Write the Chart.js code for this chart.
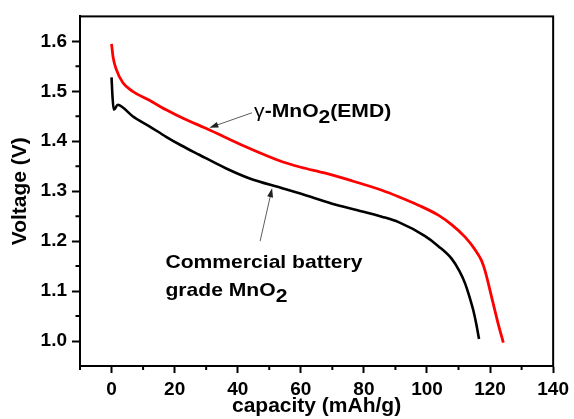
<!DOCTYPE html>
<html>
<head>
<meta charset="utf-8">
<script src="https://cdn.jsdelivr.net/npm/chart.js@4.4.1/dist/chart.umd.min.js"></script>
<style>
  html, body { margin: 0; padding: 0; background: #fff; }
  canvas { display: block; }
</style>
</head>
<body>
<canvas id="chart" width="574" height="419"></canvas>
<script>
// gamma-MnO2 (EMD) discharge curve
const emdCapacity = [0, 0.5, 1.5, 3.6, 6.7, 12, 17.3, 23, 29.9, 36, 43.6, 54.1, 60, 67.8, 75, 85.7, 91, 97.3, 103.6, 108, 112.1, 115, 117.3, 118.4, 120.5, 122.6, 124.2];
const emdVoltage  = [1.595, 1.568, 1.544, 1.517, 1.500, 1.482, 1.463, 1.445, 1.426, 1.408, 1.386, 1.359, 1.348, 1.336, 1.323, 1.302, 1.289, 1.272, 1.252, 1.232, 1.208, 1.185, 1.161, 1.141, 1.088, 1.034, 0.997];

// commercial battery grade MnO2
const cmdCapacity = [0, 0.3, 0.7, 2, 3.5, 6.7, 12, 17.3, 22, 27.8, 36.2, 43.6, 54.1, 62, 69.9, 78, 85.7, 91, 99.4, 103.6, 107.8, 110.3, 112.1, 113.5, 114.7, 115.6, 116.5];
const cmdVoltage  = [1.528, 1.490, 1.463, 1.473, 1.468, 1.450, 1.430, 1.409, 1.392, 1.373, 1.346, 1.326, 1.306, 1.291, 1.275, 1.262, 1.249, 1.238, 1.210, 1.190, 1.165, 1.140, 1.115, 1.088, 1.061, 1.035, 1.004];

const xTicks = [0, 20, 40, 60, 80, 100, 120, 140];
const xMinorTicks = [-10, 10, 30, 50, 70, 90, 110, 130];
const yTicks = [1.0, 1.1, 1.2, 1.3, 1.4, 1.5, 1.6];
const yMinorTicks = [1.05, 1.15, 1.25, 1.35, 1.45, 1.55];

const FONT = '"Liberation Sans", Arial, sans-serif';

function toPoints(xs, ys) {
    return xs.map((x, i) => ({ x: x, y: ys[i] }));
}

// short minor ticks + the closing frame on top/right
const frameAndMinorTicks = {
    id: 'frameAndMinorTicks',
    afterDraw(chart) {
        const ctx = chart.ctx;
        const a = chart.chartArea;
        const xs = chart.scales.x, ys = chart.scales.y;
        ctx.save();
        ctx.strokeStyle = '#000';
        ctx.lineWidth = 2;
        ctx.strokeRect(a.left, a.top, a.right - a.left, a.bottom - a.top);
        ctx.beginPath();
        xMinorTicks.forEach(v => {
            const px = xs.getPixelForValue(v);
            ctx.moveTo(px, a.bottom);
            ctx.lineTo(px, a.bottom + 4);
        });
        yMinorTicks.forEach(v => {
            const py = ys.getPixelForValue(v);
            ctx.moveTo(a.left, py);
            ctx.lineTo(a.left - 4.5, py);
        });
        ctx.stroke();
        ctx.restore();
    }
};

function drawArrow(ctx, x1, y1, x2, y2) {
    const ang = Math.atan2(y2 - y1, x2 - x1);
    const len = 9, half = 3;
    ctx.beginPath();
    ctx.moveTo(x1, y1);
    ctx.lineTo(x2 - Math.cos(ang) * len * 0.8, y2 - Math.sin(ang) * len * 0.8);
    ctx.stroke();
    ctx.beginPath();
    ctx.moveTo(x2, y2);
    ctx.lineTo(x2 - Math.cos(ang) * len + Math.sin(ang) * half, y2 - Math.sin(ang) * len - Math.cos(ang) * half);
    ctx.lineTo(x2 - Math.cos(ang) * len - Math.sin(ang) * half, y2 - Math.sin(ang) * len + Math.cos(ang) * half);
    ctx.closePath();
    ctx.fill();
}

// draws a run of [text, style] pieces; style: 'g' greek, 's' subscript, '' bold
// the original lettering is a bit wide, so stretch it horizontally
function drawRuns(ctx, runs, x, y) {
    const sx = 1.11;
    ctx.save();
    ctx.translate(x, y);
    ctx.scale(sx, 1);
    let cx = 0;
    runs.forEach(([txt, kind]) => {
        if (kind === 'g') ctx.font = '19px ' + FONT;
        else ctx.font = 'bold 19px ' + FONT;
        const dy = kind === 's' ? 6 : 0;
        ctx.fillText(txt, cx, dy);
        cx += ctx.measureText(txt).width;
    });
    ctx.restore();
}

const labelsPlugin = {
    id: 'curveLabels',
    afterDraw(chart) {
        const ctx = chart.ctx;
        const xs = chart.scales.x, ys = chart.scales.y;
        const X = v => xs.getPixelForValue(v), Y = v => ys.getPixelForValue(v);
        ctx.save();
        ctx.fillStyle = '#000';
        ctx.textBaseline = 'alphabetic';
        ctx.textAlign = 'left';
        drawRuns(ctx, [['\u03b3', 'g'], ['-MnO', ''], ['2', 's'], ['(EMD)', '']], X(45.2), Y(1.449));
        drawRuns(ctx, [['Commercial battery', '']], X(17.1), Y(1.147));
        drawRuns(ctx, [['grade MnO', ''], ['2', 's']], X(17.1), Y(1.090));
        ctx.strokeStyle = '#333';
        ctx.fillStyle = '#222';
        ctx.lineWidth = 0.8;
        drawArrow(ctx, X(44.5), Y(1.457), X(31.0), Y(1.427));
        drawArrow(ctx, X(47.1), Y(1.200), X(50.9), Y(1.306));
        ctx.restore();
    }
};

new Chart(document.getElementById('chart'), {
    type: 'scatter',
    data: {
        datasets: [
            {
                label: 'Commercial battery grade MnO2',
                data: toPoints(cmdCapacity, cmdVoltage),
                showLine: true,
                borderColor: '#000',
                borderWidth: 2.6,
                pointRadius: 0,
                cubicInterpolationMode: 'monotone'
            },
            {
                label: '\u03b3-MnO2(EMD)',
                data: toPoints(emdCapacity, emdVoltage),
                showLine: true,
                borderColor: '#ff0000',
                borderWidth: 2.8,
                pointRadius: 0,
                cubicInterpolationMode: 'monotone'
            }
        ]
    },
    options: {
        responsive: false,
        animation: false,
        devicePixelRatio: 1,
        layout: { padding: { left: 0, top: 16, right: 19, bottom: 0 } },
        plugins: {
            legend: { display: false },
            tooltip: { enabled: false }
        },
        scales: {
            x: {
                type: 'linear',
                min: -10,
                max: 140,
                afterBuildTicks: s => { s.ticks = xTicks.map(v => ({ value: v })); },
                afterFit: s => { s.height = 53; },
                grid: { drawOnChartArea: false, tickLength: 7, tickWidth: 2, tickColor: '#000' },
                border: { color: '#000', width: 2 },
                ticks: { color: '#000', padding: 5, maxRotation: 0, font: { family: FONT, size: 19, weight: 'bold' } },
                title: {
                    display: true,
                    text: 'capacity (mAh/g)',
                    color: '#000',
                    padding: { top: 0, bottom: 0 },
                    font: { family: FONT, size: 21, weight: 'bold' }
                }
            },
            y: {
                type: 'linear',
                min: 0.95,
                max: 1.65,
                afterBuildTicks: s => { s.ticks = yTicks.map(v => ({ value: v })); },
                afterFit: s => { s.width = 80; },
                grid: { drawOnChartArea: false, tickLength: 8, tickWidth: 2, tickColor: '#000' },
                border: { color: '#000', width: 2 },
                ticks: {
                    color: '#000',
                    padding: 5,
                    callback: v => v.toFixed(1),
                    font: { family: FONT, size: 19, weight: 'bold' }
                },
                title: {
                    display: true,
                    text: 'Voltage (V)',
                    color: '#000',
                    padding: { top: 8, bottom: 0 },
                    font: { family: FONT, size: 21, weight: 'bold' }
                }
            }
        }
    },
    plugins: [frameAndMinorTicks, labelsPlugin]
});
</script>
</body>
</html>
